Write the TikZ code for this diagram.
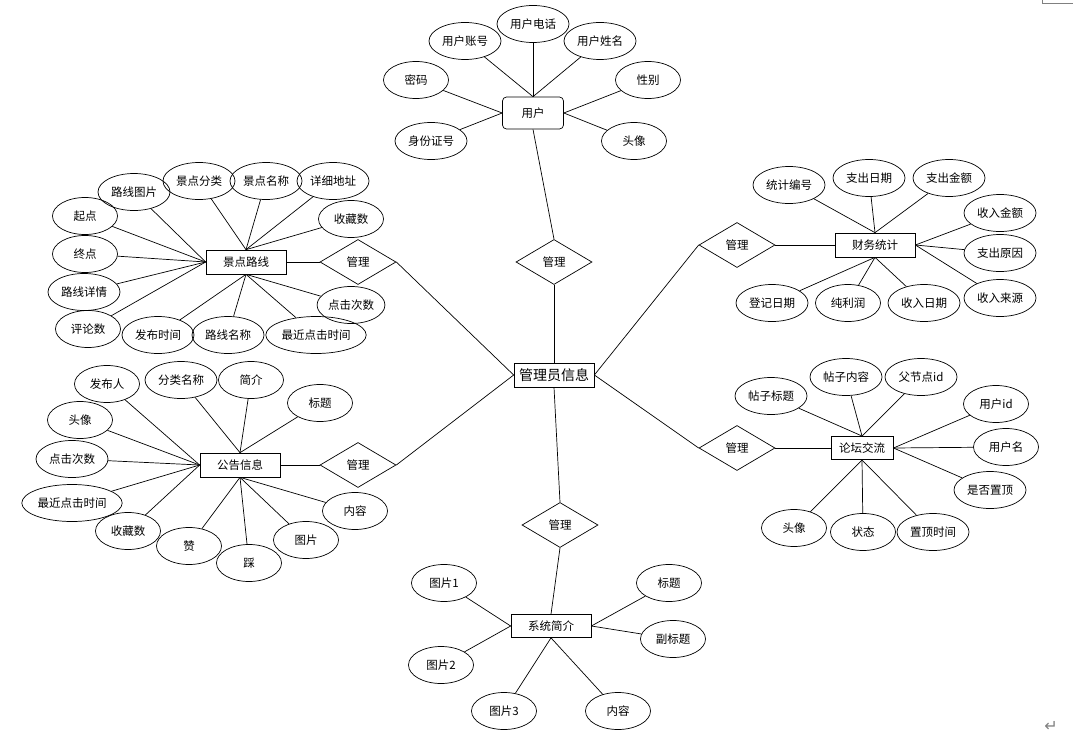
\documentclass[tikz,border=0pt]{standalone}
\usepackage{fontspec}
\setmainfont{Noto Sans CJK SC}
\newfontfamily\symfont{DejaVu Sans}
\usetikzlibrary{shapes.geometric}
\begin{document}
\begin{tikzpicture}[x = 1pt, y = -1pt, line width = 0.7pt,
    every node/.style = {font = \fontsize{11.5pt}{13pt}\selectfont},
    attr/.style = {ellipse, draw, minimum width = 65pt, minimum height = 37pt, inner sep = 1pt},
    wide/.style = {attr, minimum width = 72pt},
    wider/.style = {attr, minimum width = 96pt},
    entity/.style = {rectangle, draw, minimum width = 80pt, minimum height = 24pt, inner sep = 2pt},
    rel/.style = {diamond, draw, minimum width = 76pt, minimum height = 45pt, inner sep = 0pt}]
    \useasboundingbox (0, 0) rectangle (1073, 749);
    % user
    \node [entity, rounded corners = 4pt, minimum width = 61pt, minimum height = 32pt] at (533, 113) (user) {用户};
    \node [wide] at (533, 24) (phone) {用户电话};
    \node [wide] at (465, 41) (account) {用户账号};
    \node [wide] at (600, 41) (uname) {用户姓名};
    \node [attr] at (416, 80) (pwd) {密码};
    \node [attr] at (648, 80) (gender) {性别};
    \node [wide] at (431, 141) (idcard) {身份证号};
    \node [attr] at (634, 141) (avatar) {头像};
    \draw (account) to (user.north);
    \draw (phone) to (user.north);
    \draw (uname) to (user.north);
    \draw (pwd) to (user.west);
    \draw (idcard) to (user.west);
    \draw (gender) to (user.east);
    \draw (avatar) to (user.east);
    % admin and relations
    \node [entity, font = \fontsize{14pt}{16pt}\selectfont] at (554, 375) (admin) {管理员信息};
    \node [rel] at (554, 262) (m1) {管理};
    \node [rel] at (358, 262) (m2) {管理};
    \node [rel] at (358, 465) (m3) {管理};
    \node [rel] at (737, 245) (m4) {管理};
    \node [rel] at (737, 448) (m5) {管理};
    \node [rel] at (560, 525) (m6) {管理};
    \draw (user.south) to (m1.north);
    \draw (m1.south) to (admin.north);
    \draw (m2.east) to (admin.west);
    \draw (m3.east) to (admin.west);
    \draw (m4.west) to (admin.east);
    \draw (m5.west) to (admin.east);
    \draw (admin.south) to (m6.north);
    % scenic route
    \node [entity] at (246, 262) (route) {景点路线};
    \node [wide] at (134, 192) (rpic) {路线图片};
    \node [wide] at (199, 181) (rcat) {景点分类};
    \node [wide] at (266, 181) (sname) {景点名称};
    \node [wide] at (333, 181) (addr) {详细地址};
    \node [attr] at (351, 219) (fav) {收藏数};
    \node [attr] at (85, 216) (start) {起点};
    \node [attr] at (85, 254) (stop) {终点};
    \node [wide] at (84, 292) (detail) {路线详情};
    \node [attr] at (88, 329) (cmt) {评论数};
    \node [wide] at (158, 335) (ptime) {发布时间};
    \node [wide] at (228, 335) (rname) {路线名称};
    \node [wider] at (316, 335) (lasthit) {最近点击时间};
    \node [attr] at (351, 305) (hits) {点击次数};
    \draw (route.east) to (m2.west);
    \draw (rpic) to (route.west);
    \draw (start) to (route.west);
    \draw (stop) to (route.west);
    \draw (detail) to (route.west);
    \draw (cmt) to (route.west);
    \draw (rcat) to (route.north);
    \draw (sname) to (route.north);
    \draw (addr) to (route.north);
    \draw (fav) to (route.north);
    \draw (ptime) to (route.south);
    \draw (rname) to (route.south);
    \draw (lasthit) to (route.south);
    \draw (hits) to (route.south);
    % notice
    \node [entity] at (240, 465) (notice) {公告信息};
    \node [attr] at (107, 384) (pub) {发布人};
    \node [wide] at (181, 380) (ncat) {分类名称};
    \node [attr] at (251, 380) (brief) {简介};
    \node [attr] at (320, 403) (ntitle) {标题};
    \node [attr] at (80, 420) (navatar) {头像};
    \node [wide] at (72, 459) (nhits) {点击次数};
    \node [wider] at (72, 503) (nlast) {最近点击时间};
    \node [attr] at (128, 531) (nfav) {收藏数};
    \node [attr] at (189, 546) (like) {赞};
    \node [attr] at (249, 563) (dislike) {踩};
    \node [attr] at (306, 540) (npic) {图片};
    \node [attr] at (355, 511) (ncontent) {内容};
    \draw (notice.east) to (m3.west);
    \draw (pub) to (notice.west);
    \draw (navatar) to (notice.west);
    \draw (nhits) to (notice.west);
    \draw (nlast) to (notice.west);
    \draw (nfav) to (notice.west);
    \draw (ncat) to (notice.north);
    \draw (brief) to (notice.north);
    \draw (ntitle) to (notice.north);
    \draw (like) to (notice.south);
    \draw (dislike) to (notice.south);
    \draw (npic) to (notice.south);
    \draw (ncontent) to (notice.south);
    % finance
    \node [entity] at (875, 245) (finance) {财务统计};
    \node [wide] at (789, 185) (statno) {统计编号};
    \node [wide] at (869, 178) (outdate) {支出日期};
    \node [wide] at (949, 178) (outamt) {支出金额};
    \node [wide] at (1000, 213) (inamt) {收入金额};
    \node [wide] at (1000, 253) (outreason) {支出原因};
    \node [wide] at (1000, 298) (insrc) {收入来源};
    \node [wide] at (772, 303) (regdate) {登记日期};
    \node [attr] at (848, 303) (profit) {纯利润};
    \node [wide] at (924, 303) (indate) {收入日期};
    \draw (m4.east) to (finance.west);
    \draw (statno) to (finance.north);
    \draw (outdate) to (finance.north);
    \draw (outamt) to (finance.north);
    \draw (inamt) to (finance.east);
    \draw (outreason) to (finance.east);
    \draw (insrc) to (finance.east);
    \draw (regdate) to (finance.south);
    \draw (profit) to (finance.south);
    \draw (indate) to (finance.south);
    % forum
    \node [entity, minimum width = 62pt, minimum height = 23pt, line width = 1pt] at (862, 448) (forum) {论坛交流};
    \node [wide] at (771, 396) (ptitle) {帖子标题};
    \node [wide] at (846, 377) (pcontent) {帖子内容};
    \node [wide] at (921, 377) (parent) {父节点id};
    \node [attr] at (996, 404) (uid) {用户id};
    \node [attr] at (1006, 447) (uname2) {用户名};
    \node [wide] at (990, 490) (istop) {是否置顶};
    \node [attr] at (794, 528) (favatar) {头像};
    \node [attr] at (863, 532) (state) {状态};
    \node [wide] at (933, 532) (toptime) {置顶时间};
    \draw (m5.east) to (forum.west);
    \draw (ptitle) to (forum.north);
    \draw (pcontent) to (forum.north);
    \draw (parent) to (forum.north);
    \draw (uid) to (forum.east);
    \draw (uname2) to (forum.east);
    \draw (istop) to (forum.east);
    \draw (favatar) to (forum.south);
    \draw (state) to (forum.south);
    \draw (toptime) to (forum.south);
    % system intro
    \node [entity, minimum height = 23pt] at (551, 626) (intro) {系统简介};
    \node [attr] at (444, 583) (pic1) {图片1};
    \node [attr] at (441, 665) (pic2) {图片2};
    \node [attr] at (504, 711) (pic3) {图片3};
    \node [attr] at (618, 711) (icontent) {内容};
    \node [attr] at (669, 583) (ititle) {标题};
    \node [attr] at (673, 639) (subtitle) {副标题};
    \draw (m6.south) to (intro.north);
    \draw (pic1) to (intro.west);
    \draw (pic2) to (intro.west);
    \draw (pic3) to (intro.south);
    \draw (icontent) to (intro.south);
    \draw (ititle) to (intro.east);
    \draw (subtitle) to (intro.east);
    % page marks
    \coordinate (c1) at (1042, 0);
    \coordinate (c2) at (1042, 3);
    \coordinate (c3) at (1073, 3);
    \draw [gray, line width = 0.8pt] (c1) -- (c2) -- (c3);
    \node [gray, font = \symfont\fontsize{16pt}{18pt}\selectfont] at (1051, 726) (ret) {↵};
\end{tikzpicture}
\end{document}
